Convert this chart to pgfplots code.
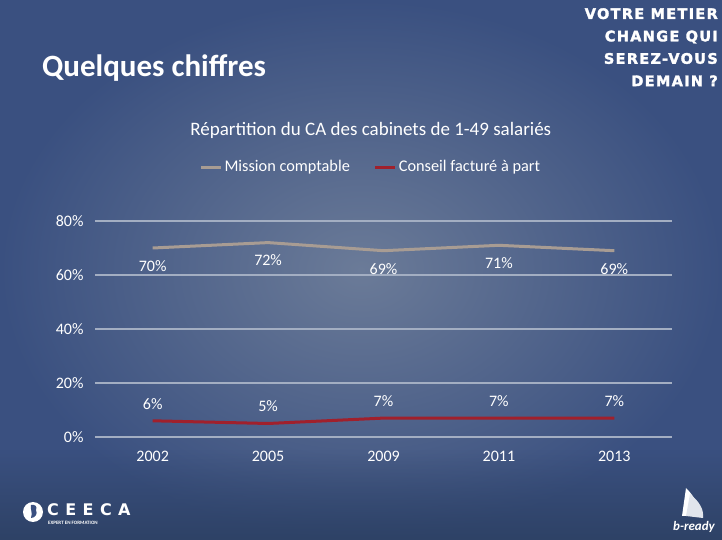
\documentclass[border=0pt]{standalone}
\usepackage{pgfplots}
\pgfplotsset{compat=1.18}
\usepackage{fontspec}
\setmainfont{Carlito}
\newfontfamily\headfont[LetterSpace=9,FakeBold=2]{DejaVu Sans}
\newfontfamily\logofont[LetterSpace=40]{DejaVu Sans}
\usetikzlibrary{shadings,fadings}
\definecolor{bgc}{HTML}{6B7B98}
\definecolor{bge}{HTML}{3A5080}
\definecolor{bgb}{HTML}{2E4266}
\definecolor{gridc}{HTML}{A3AEC2}
\definecolor{mission}{HTML}{A89C93}
\definecolor{conseil}{HTML}{A0202C}
\begin{document}
\begin{tikzpicture}[x=1pt,y=1pt]
% background
\shade[inner color=bgc, outer color=bge] (0,0) rectangle (722,540);
\fill[bgb, path fading=north] (0,0) rectangle (722,90);
\useasboundingbox (0,0) rectangle (722,540);
% slide title
\node[anchor=west, text=white, font=\fontsize{31}{34}\selectfont\bfseries, inner sep=0pt] at (42,472) {Quelques chiffres};
% top right
\node[anchor=north east, align=right, text=white, font=\headfont\fontsize{14.5}{22.4}\selectfont\bfseries, inner sep=0pt] at (718,532) {VOTRE METIER\\CHANGE QUI\\SEREZ-VOUS\\DEMAIN ?};
\begin{axis}[
  at={(95pt,103pt)}, anchor=south west,
  width=577pt, height=216pt, scale only axis,
  xmin=-0.5, xmax=4.5, ymin=0, ymax=80,
  xtick={0,1,2,3,4},
  xticklabels={2002,2005,2009,2011,2013},
  ytick={0,20,40,60,80},
  /pgf/number format/assume math mode=true,
  yticklabel={\pgfmathprintnumber{\tick}\%},
  axis line style={draw=none},
  tick style={draw=none},
  ymajorgrids, grid style={gridc, line width=1.5pt},
  ticklabel style={text=white, font=\fontsize{16}{18}\selectfont},
  yticklabel style={xshift=-8pt},
  xticklabel style={yshift=-11pt},
  title={Répartition du CA des cabinets de 1-49 salariés},
  title style={at={(0.478,1.39)}, anchor=center, text=white, font=\fontsize{19}{22}\selectfont},
  legend style={at={(0.478,1.25)}, anchor=center, draw=none, fill=none, text=white, font=\fontsize{16.3}{18}\selectfont, legend columns=2, column sep=0pt, /tikz/every even column/.append style={column sep=22pt}, nodes={inner xsep=2pt}},
  legend image code/.code={\draw[#1, line width=3pt] (0pt,0pt) -- (20pt,0pt);},
  legend cell align=left,
  nodes near coords={\pgfmathprintnumber{\pgfplotspointmeta}\%},
  every node near coord/.append style={text=white, font=\fontsize{16}{18}\selectfont},
  clip=false,
]
\addplot[mission, line width=3pt, no markers, every node near coord/.append style={anchor=center, yshift=-18pt}]
  coordinates {(0,70) (1,72) (2,69) (3,71) (4,69)};
\addlegendentry{Mission comptable}
\addplot[conseil, line width=3pt, no markers, every node near coord/.append style={anchor=center, yshift=17pt}]
  coordinates {(0,6) (1,5) (2,7) (3,7) (4,7)};
\addlegendentry{Conseil facturé à part}
\end{axis}
% CEECA logo
\fill[white] (33,28) circle (10);
\fill[bge] (36,30) .. controls (38,34) and (34,36) .. (31,35) .. controls (30,31) and (33,27) .. (31,22) .. controls (35,22) and (38,26) .. (36,30);
\node[anchor=west, text=white, font=\logofont\fontsize{16}{17}\selectfont\bfseries, inner sep=0pt] at (47,30) {CEECA};
\node[anchor=west, text=white, font=\fontsize{5}{6}\selectfont\bfseries, inner sep=0pt] at (48,17) {EXPERT EN FORMATION};
% b-ready logo
\fill[white] (682,24) -- (686,52) .. controls (696,42) and (700,32) .. (698,24) -- cycle;
\fill[white!85!bge] (686,24) -- (690,46) .. controls (700,38) and (704,30) .. (703,22) -- cycle;
\node[anchor=center, text=white, font=\fontsize{13}{14}\selectfont\bfseries\itshape, inner sep=0pt] at (694,13) {b-ready};
\end{tikzpicture}
\end{document}
